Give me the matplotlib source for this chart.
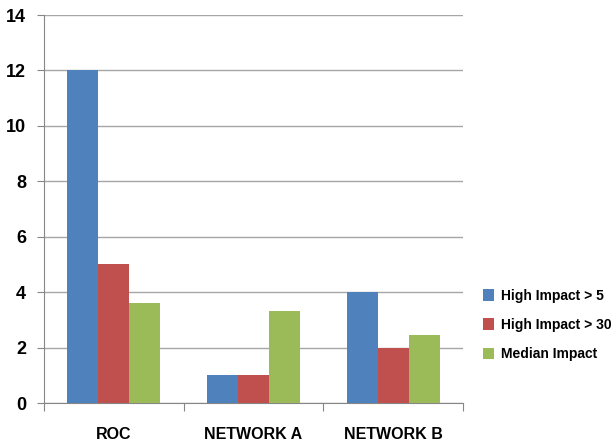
import matplotlib.pyplot as plt
import numpy as np

# Chart data
categories = ["ROC", "NETWORK A", "NETWORK B"]
series_names = ["High Impact > 5", "High Impact > 30", "Median Impact"]
high_5 = [12, 1, 4]
high_30 = [5, 1, 2]
median = [3.6, 3.33, 2.45]
colors = ["#4F81BD", "#C0504D", "#9BBB59"]

plt.rcParams['font.family'] = ['Liberation Sans', 'DejaVu Sans']
plt.rcParams['font.weight'] = 'bold'

fig = plt.figure(figsize=(6.15, 4.46), dpi=100)
ax = fig.add_axes([44 / 615, 43 / 446, 419 / 615, 388 / 446])

x = np.arange(len(categories))
w = 0.222
for i, (vals, name) in enumerate(zip([high_5, high_30, median], series_names)):
    ax.bar(x + (i - 1) * w, vals, w, color=colors[i], label=name, zorder=3)

ax.set_xlim(-0.5, 2.5)
ax.set_ylim(0, 14)
ax.set_yticks(range(0, 15, 2))
ax.yaxis.grid(True, color="#A6A6A6", linewidth=1, zorder=0)

# category boundary ticks below the axis
ax.set_xticks([-0.5, 0.5, 1.5, 2.5])
ax.set_xticklabels([])
ax.set_xticks(x, minor=True)
ax.set_xticklabels(categories, minor=True, fontsize=11.5, fontweight='bold')
ax.tick_params(axis='x', which='major', length=6, color="#868686")
ax.tick_params(axis='x', which='minor', length=0, pad=17)
ax.tick_params(axis='y', length=5, color="#868686", labelsize=13, pad=8)
for lab in ax.get_yticklabels():
    lab.set_fontweight('bold')

for s in ['top', 'right']:
    ax.spines[s].set_visible(False)
for s in ['left', 'bottom']:
    ax.spines[s].set_color("#868686")

leg = fig.legend(loc='upper left', bbox_to_anchor=(477 / 615, 1 - 283 / 446),
                 frameon=False, fontsize=10, handlelength=0.8, handleheight=0.9,
                 handletextpad=0.5, labelspacing=1.1, borderaxespad=0)
for t in leg.get_texts():
    t.set_fontweight('bold')

fig.savefig("out.png", dpi=100)
